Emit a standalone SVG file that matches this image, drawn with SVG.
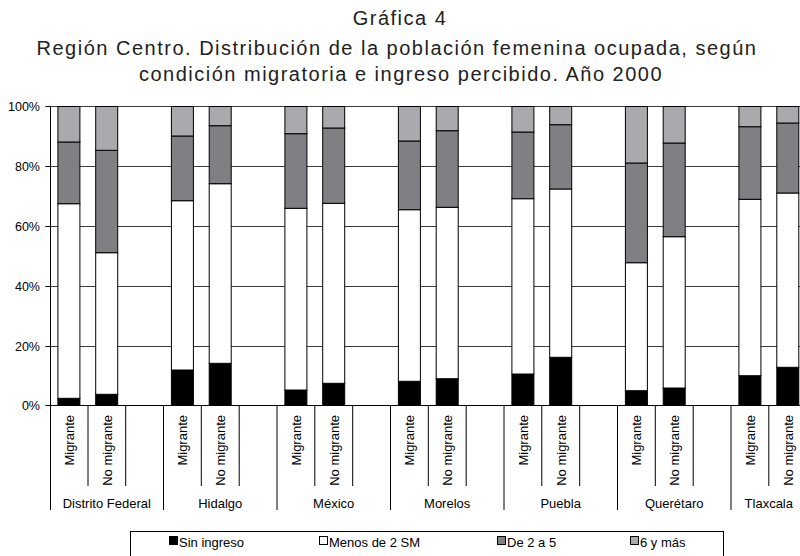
<svg xmlns="http://www.w3.org/2000/svg" width="800" height="556" viewBox="0 0 800 556">
<style>
text{font-family:"Liberation Sans",Arial,sans-serif;fill:#000}
.title{font-size:20px;letter-spacing:1.5px;fill:#222;text-anchor:middle}
.ax{font-size:12.5px;text-anchor:end}
.cat{font-size:13px;text-anchor:end}
.st{font-size:13px;text-anchor:middle}
.lg{font-size:13px}
.grid{stroke:#3c3c3c;stroke-width:1;fill:none}
.tick{stroke:#000;stroke-width:1;fill:none}
.s0{fill:#000;stroke:#000;stroke-width:1}
.s1{fill:#fff;stroke:#000;stroke-width:1}
.s2{fill:#7f8083;stroke:#000;stroke-width:1}
.s3{fill:#a9aaad;stroke:#000;stroke-width:1}
</style>
<rect width="800" height="556" fill="#fff"/>
<g id="title">
<text class="title" x="400" y="25">Gráfica 4</text>
<text class="title" x="397" y="55">Región Centro. Distribución de la población femenina ocupada, según</text>
<text class="title" x="401" y="81">condición migratoria e ingreso percibido. Año 2000</text>
</g>
<g id="gridlines">
<path class="grid" d="M50 106.5H806M50 166.5H806M50 226.5H806M50 286.5H806M50 346.5H806"/>
</g>
<g id="y-axis">
<path class="tick" d="M50.5 106.5V405.5M45.5 106.5H50.5M45.5 166.5H50.5M45.5 226.5H50.5M45.5 286.5H50.5M45.5 346.5H50.5M45.5 405.5H50.5"/>
<text class="ax" x="40" y="111">100%</text>
<text class="ax" x="40" y="171">80%</text>
<text class="ax" x="40" y="231">60%</text>
<text class="ax" x="40" y="291">40%</text>
<text class="ax" x="40" y="351">20%</text>
<text class="ax" x="40" y="410">0%</text>
</g>
<g id="bars">
<g id="bar-df-m"><rect class="s0" x="57.9" y="398.3" width="22" height="7.2"/><rect class="s1" x="57.9" y="203.7" width="22" height="194.6"/><rect class="s2" x="57.9" y="142" width="22" height="61.7"/><rect class="s3" x="57.9" y="106.5" width="22" height="35.5"/></g>
<g id="bar-df-nm"><rect class="s0" x="95.7" y="394.3" width="22" height="11.2"/><rect class="s1" x="95.7" y="252.7" width="22" height="141.6"/><rect class="s2" x="95.7" y="150.3" width="22" height="102.4"/><rect class="s3" x="95.7" y="106.5" width="22" height="43.8"/></g>
<g id="bar-hgo-m"><rect class="s0" x="171.4" y="370" width="22" height="35.5"/><rect class="s1" x="171.4" y="200.7" width="22" height="169.3"/><rect class="s2" x="171.4" y="136" width="22" height="64.7"/><rect class="s3" x="171.4" y="106.5" width="22" height="29.5"/></g>
<g id="bar-hgo-nm"><rect class="s0" x="209.2" y="363.3" width="22" height="42.2"/><rect class="s1" x="209.2" y="183.7" width="22" height="179.6"/><rect class="s2" x="209.2" y="125.7" width="22" height="58"/><rect class="s3" x="209.2" y="106.5" width="22" height="19.2"/></g>
<g id="bar-mex-m"><rect class="s0" x="284.9" y="390" width="22" height="15.5"/><rect class="s1" x="284.9" y="208.3" width="22" height="181.7"/><rect class="s2" x="284.9" y="133.7" width="22" height="74.6"/><rect class="s3" x="284.9" y="106.5" width="22" height="27.2"/></g>
<g id="bar-mex-nm"><rect class="s0" x="322.7" y="383.3" width="22" height="22.2"/><rect class="s1" x="322.7" y="203.3" width="22" height="180"/><rect class="s2" x="322.7" y="128" width="22" height="75.3"/><rect class="s3" x="322.7" y="106.5" width="22" height="21.5"/></g>
<g id="bar-mor-m"><rect class="s0" x="398.4" y="381.3" width="22" height="24.2"/><rect class="s1" x="398.4" y="209.7" width="22" height="171.6"/><rect class="s2" x="398.4" y="141" width="22" height="68.7"/><rect class="s3" x="398.4" y="106.5" width="22" height="34.5"/></g>
<g id="bar-mor-nm"><rect class="s0" x="436.2" y="378.7" width="22" height="26.8"/><rect class="s1" x="436.2" y="207.3" width="22" height="171.4"/><rect class="s2" x="436.2" y="130.7" width="22" height="76.6"/><rect class="s3" x="436.2" y="106.5" width="22" height="24.2"/></g>
<g id="bar-pue-m"><rect class="s0" x="511.9" y="374" width="22" height="31.5"/><rect class="s1" x="511.9" y="198.7" width="22" height="175.3"/><rect class="s2" x="511.9" y="132" width="22" height="66.7"/><rect class="s3" x="511.9" y="106.5" width="22" height="25.5"/></g>
<g id="bar-pue-nm"><rect class="s0" x="549.7" y="357.3" width="22" height="48.2"/><rect class="s1" x="549.7" y="189" width="22" height="168.3"/><rect class="s2" x="549.7" y="124.7" width="22" height="64.3"/><rect class="s3" x="549.7" y="106.5" width="22" height="18.2"/></g>
<g id="bar-qro-m"><rect class="s0" x="625.4" y="390.7" width="22" height="14.8"/><rect class="s1" x="625.4" y="262.7" width="22" height="128"/><rect class="s2" x="625.4" y="163" width="22" height="99.7"/><rect class="s3" x="625.4" y="106.5" width="22" height="56.5"/></g>
<g id="bar-qro-nm"><rect class="s0" x="663.2" y="388" width="22" height="17.5"/><rect class="s1" x="663.2" y="236.7" width="22" height="151.3"/><rect class="s2" x="663.2" y="143" width="22" height="93.7"/><rect class="s3" x="663.2" y="106.5" width="22" height="36.5"/></g>
<g id="bar-tlax-m"><rect class="s0" x="738.9" y="375.7" width="22" height="29.8"/><rect class="s1" x="738.9" y="199.3" width="22" height="176.4"/><rect class="s2" x="738.9" y="126.7" width="22" height="72.6"/><rect class="s3" x="738.9" y="106.5" width="22" height="20.2"/></g>
<g id="bar-tlax-nm"><rect class="s0" x="776.8" y="367.3" width="22" height="38.2"/><rect class="s1" x="776.8" y="193" width="22" height="174.3"/><rect class="s2" x="776.8" y="123" width="22" height="70"/><rect class="s3" x="776.8" y="106.5" width="22" height="16.5"/></g>
</g>
<g id="x-axis">
<path class="tick" d="M50 405.5H806"/>
<path class="tick" d="M50.5 405.5V510M163.5 405.5V510M277 405.5V510M390.5 405.5V510M504 405.5V510M617.5 405.5V510M731 405.5V510"/>
<path class="tick" d="M88 405.5V486M125.7 405.5V486M201.3 405.5V486M239.2 405.5V486M314.8 405.5V486M352.7 405.5V486M428.3 405.5V486M466.2 405.5V486M541.8 405.5V486M579.7 405.5V486M655.3 405.5V486M693.2 405.5V486M768.8 405.5V486"/>
<g id="cat-labels">
<text class="cat" transform="translate(73.9,415) rotate(-90)">Migrante</text>
<text class="cat" transform="translate(111.7,415) rotate(-90)">No migrante</text>
<text class="cat" transform="translate(187.4,415) rotate(-90)">Migrante</text>
<text class="cat" transform="translate(225.2,415) rotate(-90)">No migrante</text>
<text class="cat" transform="translate(300.9,415) rotate(-90)">Migrante</text>
<text class="cat" transform="translate(338.7,415) rotate(-90)">No migrante</text>
<text class="cat" transform="translate(414.4,415) rotate(-90)">Migrante</text>
<text class="cat" transform="translate(452.2,415) rotate(-90)">No migrante</text>
<text class="cat" transform="translate(527.9,415) rotate(-90)">Migrante</text>
<text class="cat" transform="translate(565.7,415) rotate(-90)">No migrante</text>
<text class="cat" transform="translate(641.4,415) rotate(-90)">Migrante</text>
<text class="cat" transform="translate(679.2,415) rotate(-90)">No migrante</text>
<text class="cat" transform="translate(754.9,415) rotate(-90)">Migrante</text>
<text class="cat" transform="translate(792.8,415) rotate(-90)">No migrante</text>
</g>
<g id="state-labels">
<text class="st" x="106.8" y="507.5">Distrito Federal</text>
<text class="st" x="220.2" y="507.5">Hidalgo</text>
<text class="st" x="333.7" y="507.5">México</text>
<text class="st" x="447.2" y="507.5">Morelos</text>
<text class="st" x="560.7" y="507.5">Puebla</text>
<text class="st" x="674.2" y="507.5">Querétaro</text>
<text class="st" x="768.8" y="507.5">Tlaxcala</text>
</g>
</g>
<g id="legend">
<rect x="130.5" y="531.5" width="593" height="40" fill="#fff" stroke="#000" stroke-width="1"/>
<rect class="s0" x="169.5" y="536.5" width="8" height="8"/>
<text class="lg" x="179" y="547">Sin ingreso</text>
<rect class="s1" x="319.5" y="536.5" width="8" height="8"/>
<text class="lg" x="329" y="547">Menos de 2 SM</text>
<rect class="s2" x="497.5" y="536.5" width="8" height="8"/>
<text class="lg" x="507" y="547">De 2 a 5</text>
<rect class="s3" x="630.5" y="536.5" width="8" height="8"/>
<text class="lg" x="640" y="547">6 y más</text>
</g>
</svg>
